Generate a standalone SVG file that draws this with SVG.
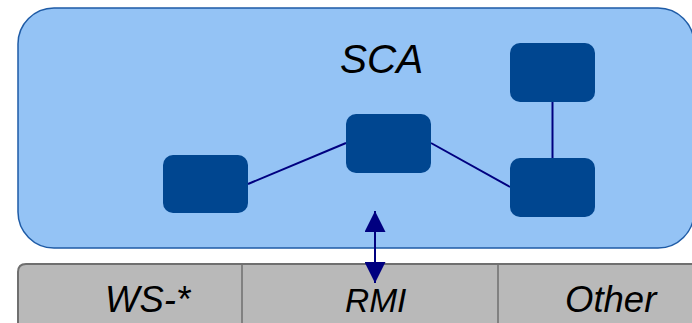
<svg xmlns="http://www.w3.org/2000/svg" width="692" height="323" viewBox="0 0 692 323">
<defs>
<style>
.lbl{font-family:"Liberation Sans",Arial,sans-serif;font-style:italic;fill:#000}
.node{fill:#004690}
.conn{stroke:#000080;stroke-width:2;fill:none}
</style>
<marker id="ah" viewBox="0 0 21 21" refX="21" refY="10.5" markerWidth="21" markerHeight="21" markerUnits="userSpaceOnUse" orient="auto-start-reverse">
<path d="M0,0 L21,10.5 L0,21 Z" fill="#000080"/>
</marker>
</defs>
<rect width="692" height="323" fill="#fff"/>
<g id="sca">
<rect x="18" y="8" width="676" height="240" rx="36" ry="36" fill="#94C3F5" stroke="#1E5BA6" stroke-width="1.5"/>
<text class="lbl" x="340" y="72.5" font-size="40.5">SCA</text>
</g>
<g id="bindings">
<path d="M18,323 V272 Q18,264 26,264 H700 V323" fill="#B9B9B9" stroke="#6F6F6F" stroke-width="2"/>
<line x1="242" y1="264" x2="242" y2="323" stroke="#6F6F6F" stroke-width="1.5"/>
<line x1="498" y1="264" x2="498" y2="323" stroke="#6F6F6F" stroke-width="1.5"/>
<text class="lbl" x="105" y="312" font-size="36.5">WS-*</text>
<text class="lbl" x="345" y="311.5" font-size="33.5">RMI</text>
<text class="lbl" x="565" y="312" font-size="36.5">Other</text>
</g>
<g id="connectors">
<line class="conn" x1="248" y1="184" x2="346" y2="143"/>
<line class="conn" x1="431" y1="143" x2="510" y2="187"/>
<line class="conn" x1="552.5" y1="102" x2="552.5" y2="158"/>
<line class="conn" x1="375" y1="211" x2="375" y2="283" marker-start="url(#ah)" marker-end="url(#ah)"/>
</g>
<g id="nodeA"><rect class="node" x="163" y="155" width="85" height="58" rx="10"/></g>
<g id="nodeB"><rect class="node" x="346" y="114" width="85" height="59" rx="10"/></g>
<g id="nodeC"><rect class="node" x="510" y="43" width="85" height="59" rx="10"/></g>
<g id="nodeD"><rect class="node" x="510" y="158" width="85" height="59" rx="10"/></g>
</svg>
